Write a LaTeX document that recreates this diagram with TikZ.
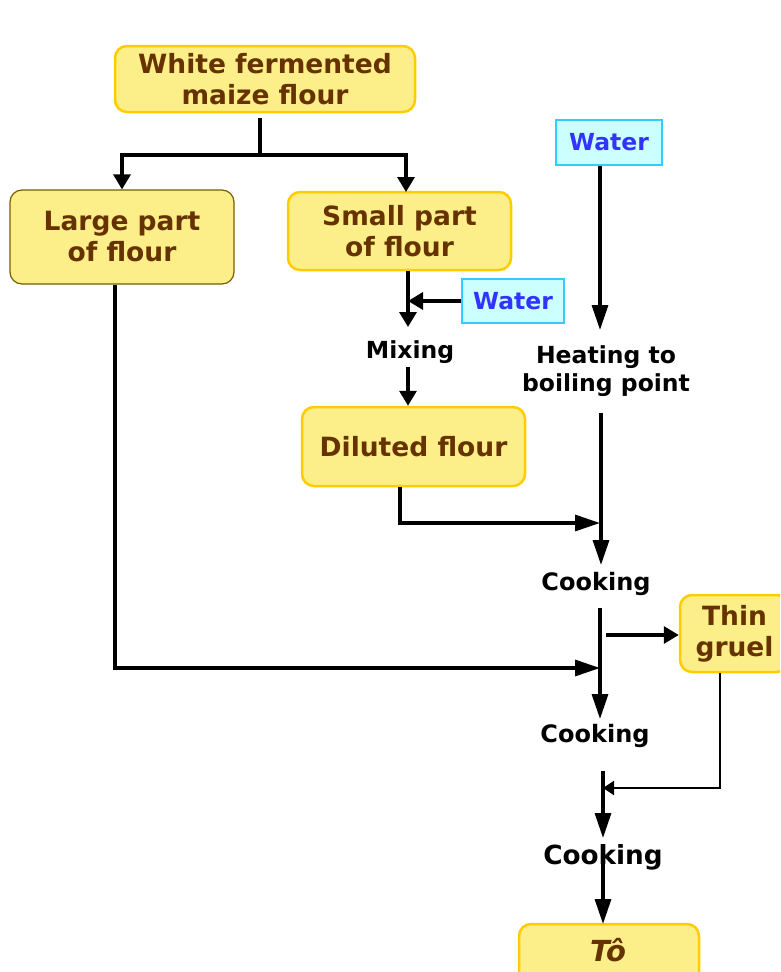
\documentclass[tikz,border=0pt]{standalone}
\usepackage{fontspec}
\setmainfont{DejaVu Sans}
\usetikzlibrary{arrows.meta}
\definecolor{boxfill}{HTML}{FCEE88}
\definecolor{boxdraw}{HTML}{FFCC00}
\definecolor{boxtext}{HTML}{663300}
\definecolor{wfill}{HTML}{CCFFFF}
\definecolor{wdraw}{HTML}{33CCFF}
\definecolor{wtext}{HTML}{3333FF}
\definecolor{darkedge}{HTML}{7A5C00}
\tikzset{
  boxshape/.style={draw=boxdraw, line width=2.5pt, fill=boxfill, rounded corners=12pt},
  prodbox/.style={boxshape,
    text=boxtext, font=\bfseries\fontsize{26.5}{31}\selectfont, align=center, inner sep=0pt},
  waterbox/.style={draw=wdraw, line width=2pt, fill=wfill, text=wtext,
    font=\bfseries\fontsize{23.5}{28}\selectfont, inner sep=0pt},
  steplabel/.style={text=black, font=\bfseries\fontsize{23.5}{28}\selectfont, align=center, inner sep=0pt},
  flow/.style={line width=3.3pt, line join=miter},
  arrS/.style={flow, -{Triangle[length=15pt,width=17pt]}},
  arrL/.style={flow, -{Triangle[length=25pt,width=16pt]}},
  arrT/.style={line width=2pt, line join=miter, -{Triangle[length=11pt,width=14pt]}},
}
\begin{document}
\begin{tikzpicture}[x=1pt,y=-1pt]
\useasboundingbox (0,0) rectangle (780,972);
\clip (0,0) rectangle (780,972);

% boxes
\node[prodbox, minimum width=300pt, minimum height=66pt] (white) at (265,79) {White fermented\\maize flour};
\node[prodbox, draw=darkedge, line width=1.2pt, minimum width=224pt, minimum height=94pt] (large) at (122,237) {Large part\\of flour};
\node[prodbox, minimum width=223pt, minimum height=78pt] (small) at (399.5,231) {Small part\\of flour};
\node[waterbox, minimum width=106pt, minimum height=45pt] (water1) at (609,142.5) {Water};
\node[waterbox, minimum width=102pt, minimum height=44pt] (water2) at (513,301) {Water};
\node[steplabel] (mixing) at (410,352) {Mixing};
\node[steplabel] (heating) at (606,371) {Heating to\\boiling point};
\node[prodbox, minimum width=223pt, minimum height=79pt] (diluted) at (413.5,446.5) {Diluted flour};
\node[steplabel, font=\bfseries\fontsize{24}{28}\selectfont] (cook1) at (596,584) {Cooking};
\node[prodbox, minimum width=109pt, minimum height=77pt] (gruel) at (734.5,633.5) {Thin\\gruel};
\node[steplabel, font=\bfseries\fontsize{24}{28}\selectfont] (cook2) at (595,736) {Cooking};
\node[steplabel, font=\bfseries\fontsize{26.3}{30}\selectfont] (cook3) at (603,857) {Cooking};
% final product box runs off the bottom edge
\draw[boxshape] (519,924) rectangle (699,1000);
\node[text=boxtext, font=\bfseries\itshape\fontsize{29}{33}\selectfont, inner sep=0pt] (to) at (608,950) {Tô};

% coordinates
\coordinate (wsplit) at (260,155);
\coordinate (wtop) at (260,118);
\coordinate (lcorner) at (115,668);
\coordinate (mixin) at (408,301);
\coordinate (dcorner) at (400,523);
\coordinate (join1) at (600,523);
\coordinate (join2) at (600,668);
\coordinate (gcorner) at (720,788);
\coordinate (join3) at (603,788);
\coordinate (totop) at (603,924);

% top split
\draw[flow] (wtop) -- (wsplit);
\draw[arrS] (wsplit) -- (122,155) -- (large.north -| 122,0);
\draw[arrS] (wsplit) -- (406,155) -- (406,192);

% large part to second cooking
\draw[arrL] (large.south -| 115,0) -- (lcorner) -- (join2);

% small part to mixing
\draw[arrS] (small.south -| 408,0) -- (408,327);
\draw[arrS] (water2.west) -- (mixin);
\draw[arrS] (408,367) -- (diluted.north -| 408,0);

% water to heating
\draw[arrL] (water1.south -| 600,0) -- (600,330);
\draw[arrL] (601,413) -- (601,565);

% diluted flour to cooking
\draw[arrL] (diluted.south -| 400,0) -- (dcorner) -- (join1);

% cooking 1 to cooking 2
\draw[arrL] (600,608) -- (600,719);
\draw[arrS] (606,635) -- (gruel.west |- 0,635);

% gruel back
\draw[arrT] (gruel.south -| 720,0) -- (gcorner) -- (join3);

% cooking 2 to cooking 3
\draw[arrL] (603,771) -- (603,838);
\draw[arrL] (603,847) -- (totop);
\end{tikzpicture}
\end{document}
